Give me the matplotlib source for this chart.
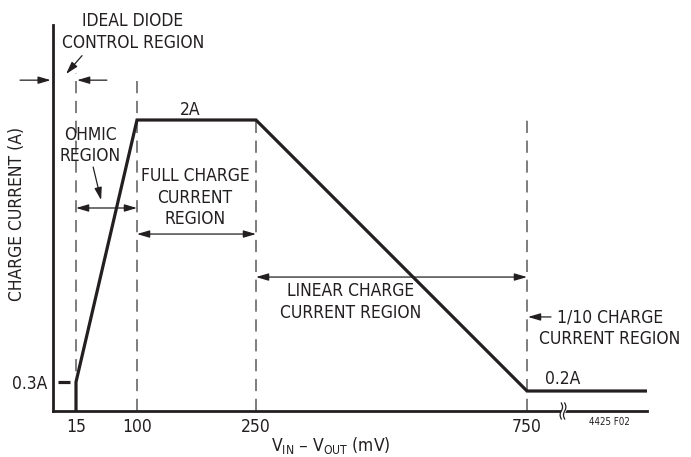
import numpy as np
import matplotlib
matplotlib.use("Agg")
import matplotlib.pyplot as plt

plt.rcParams["font.family"] = ["DejaVu Sans"]
plt.rcParams["font.stretch"] = "condensed"
plt.rcParams["mathtext.default"] = "regular"

# charge current profile (mV, A)
vdrop = [15, 15, 100, 250, 750, 1000]
current = [0, 0.3, 2.0, 2.0, 0.2, 0.2]

x_ticks = [15, 100, 250, 750]
x_tick_labels = ["15", "100", "250", "750"]
region_edges = [15, 100, 250, 750]
region_tops = [2.31, 2.27, 2.0, 2.0]

# the drawing is not to scale: piecewise axis breakpoints
x_break = [0, 15, 100, 250, 750, 1000]
x_pos = [0, 23, 84, 203, 474, 594]
y_break = [0, 0.2, 0.3, 2.0, 2.62]
y_pos = [0, 20, 29, 291, 386]

INK = "#231f20"
GRAY = "#5a5a5a"
FS = 12.5


def piecewise(v, xp, fp):
    v = np.asarray(v, dtype=float)
    out = np.interp(v, xp, fp)
    lo = v < xp[0]
    hi = v > xp[-1]
    out = np.where(lo, fp[0] + (v - xp[0]) * (fp[1] - fp[0]) / (xp[1] - xp[0]), out)
    out = np.where(hi, fp[-1] + (v - xp[-1]) * (fp[-1] - fp[-2]) / (xp[-1] - xp[-2]), out)
    return out


fig = plt.figure(figsize=(6.91, 4.57), dpi=100)
ax = fig.add_axes([53 / 691, 46 / 457, 594 / 691, 386 / 457])
ax.set_xscale("function", functions=(lambda v: piecewise(v, x_break, x_pos),
                                     lambda v: piecewise(v, x_pos, x_break)))
ax.set_yscale("function", functions=(lambda v: piecewise(v, y_break, y_pos),
                                     lambda v: piecewise(v, y_pos, y_break)))
ax.set_xlim(0, 1000)
ax.set_ylim(0, 2.62)

for s in ["top", "right"]:
    ax.spines[s].set_visible(False)
for s in ["left", "bottom"]:
    ax.spines[s].set_linewidth(2.0)
    ax.spines[s].set_color(INK)

ax.set_xticks(x_ticks)
ax.set_xticklabels(x_tick_labels)
ax.set_yticks([0.3])
ax.set_yticklabels(["0.3A"])
ax.tick_params(axis="both", length=0, labelsize=FS, colors=INK)
ax.tick_params(axis="x", pad=5)
ax.tick_params(axis="y", pad=4)
ax.minorticks_off()

# region boundaries
for xe, yt in zip(region_edges, region_tops):
    ax.plot([xe, xe], [0, yt], color=GRAY, lw=1.1, dashes=(8, 5), zorder=1)

# profile
ax.plot(vdrop, current, color=INK, lw=2.3, solid_joinstyle="miter", zorder=3)
ax.plot([3.3, 11.1], [0.3, 0.3], color=INK, lw=2.3, solid_capstyle="butt")

kw = dict(fontsize=FS, color=INK, ha="center", va="center", linespacing=1.25)
head = "-|>,head_length=0.75,head_width=0.22"
dhead = "<|-|>,head_length=0.75,head_width=0.22"


def arrow(x0, y0, x1, y1, style=head):
    ax.annotate("", xy=(x1, y1), xytext=(x0, y0), annotation_clip=False,
                arrowprops=dict(arrowstyle=style, color=INK, lw=0.9,
                                shrinkA=0, shrinkB=0, mutation_scale=10))


ax.text(94, 2.575, "IDEAL DIODE\nCONTROL REGION", **kw, clip_on=False)
arrow(23.4, 2.42, 8.5, 2.30)
arrow(-21.5, 2.26, -1.5, 2.26)
arrow(58, 2.26, 16.5, 2.26)

ax.text(34.5, 1.835, "OHMIC\nREGION", **kw)
arrow(38.9, 1.695, 50, 1.48)
arrow(15, 1.429, 100, 1.429, dhead)

ax.text(167, 2.065, "2A", **kw)
ax.text(173, 1.494, "FULL CHARGE\nCURRENT\nREGION", **kw)
arrow(100, 1.26, 250, 1.26, dhead)

arrow(250, 0.981, 750, 0.981, dhead)
ax.text(425, 0.819, "LINEAR CHARGE\nCURRENT REGION", **kw)

arrow(800, 0.722, 752, 0.722)
ax.text(923, 0.648, "1/10 CHARGE\nCURRENT REGION", **kw, clip_on=False)
ax.text(825, 0.32, "0.2A", **kw)

# axis break mark
t = np.linspace(-1, 1, 30)
ax.fill_betweenx(0.07 * t, 825 - 3.5 + 2.5 * np.sin(np.pi * t),
                 825 + 3.5 + 2.5 * np.sin(np.pi * t),
                 color="white", clip_on=False, zorder=4)
for dx in (-3.5, 3.5):
    ax.plot(825 + dx + 2.5 * np.sin(np.pi * t), 0.08 * t, color=INK, lw=0.9,
            clip_on=False, zorder=5)

ax.text(921, -0.11, "4425 F02", fontsize=7, color=INK, ha="center", va="center", clip_on=False)
ax.text(388, -0.35, "V$_{IN}$ – V$_{OUT}$ (mV)", fontsize=FS, color=INK,
        ha="center", va="center", clip_on=False)
ax.text(-23.5, 1.39, "CHARGE CURRENT (A)", fontsize=FS, color=INK, rotation=90,
        ha="center", va="center", clip_on=False)

fig.savefig("out.png", dpi=100)
